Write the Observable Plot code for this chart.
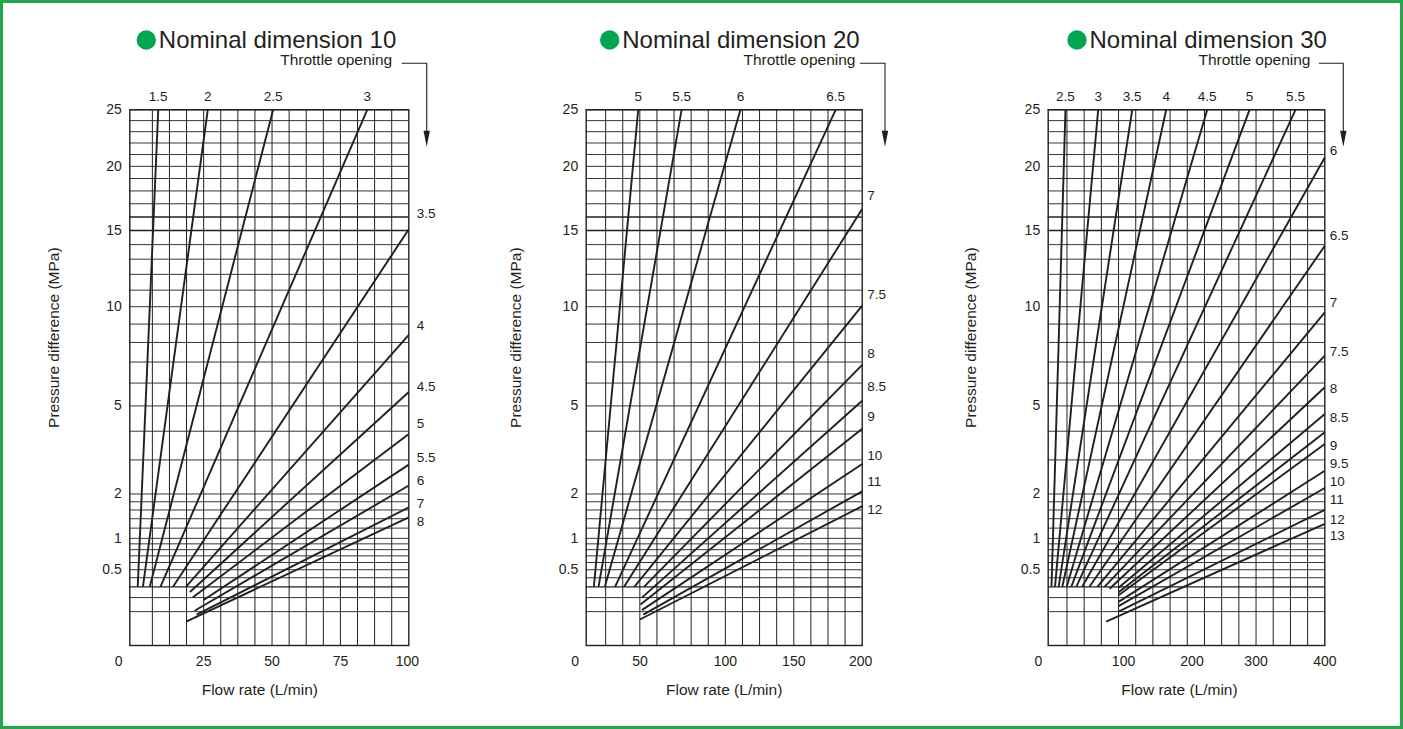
<!DOCTYPE html>
<html>
<head>
<meta charset="utf-8">
<script src="https://cdn.jsdelivr.net/npm/d3@7"></script>
<script src="https://cdn.jsdelivr.net/npm/@observablehq/plot@0.6"></script>
<style>
html,body{margin:0;padding:0;background:#fff;}
#page{position:relative;width:1403px;height:729px;overflow:hidden;background:#fff;}
.panel{position:absolute;top:0;}
#border{position:absolute;left:0;top:0;width:1403px;height:729px;box-sizing:border-box;border:3px solid #22a84a;pointer-events:none;}
</style>
</head>
<body>
<div id="page">
  <div id="p10" class="panel" style="left:0px"></div>
  <div id="p20" class="panel" style="left:470px"></div>
  <div id="p30" class="panel" style="left:930px"></div>
  <div id="border"></div>
</div>
<script>
// ---------- data ----------
const pressureGrid = [0.1, 0.2, 0.3, 0.4, 0.5, 0.6, 0.7, 0.8, 0.9, 1, 1.2, 1.4, 1.6, 1.8, 2, 3, 4, 5, 6, 7, 8, 9, 10,
  11, 12, 13, 14, 15, 16, 17, 18, 19, 20, 21, 22, 23, 24, 25];
const pressureTicks = [0.5, 1, 2, 5, 10, 15, 20, 25];

const flowTicks10 = [0, 25, 50, 75, 100];
const flowTicks20 = [0, 50, 100, 150, 200];
const flowTicks30 = [0, 100, 200, 300, 400];

// throttle opening curves: start (q0 L/min, p0 MPa) -> end (q1, p1)
const lines10 = [
  {o: "1.5", q0: 0.9, p0: 0.3, q1: 8.4, p1: 25},
  {o: "2", q0: 2.8, p0: 0.3, q1: 26.5, p1: 25},
  {o: "2.5", q0: 5.3, p0: 0.3, q1: 50.4, p1: 25},
  {o: "3", q0: 9.2, p0: 0.3, q1: 84.8, p1: 25},
  {o: "3.5", q0: 13.8, p0: 0.3, q1: 100, p1: 15.1},
  {o: "4", q0: 18.5, p0: 0.3, q1: 100, p1: 8.4},
  {o: "4.5", q0: 20, p0: 0.25, q1: 100, p1: 5.6},
  {o: "5", q0: 21, p0: 0.2, q1: 100, p1: 3.9},
  {o: "5.5", q0: 25, p0: 0.18, q1: 100, p1: 2.85},
  {o: "6", q0: 21.7, p0: 0.105, q1: 100, p1: 2.23},
  {o: "7", q0: 22.4, p0: 0.083, q1: 100, p1: 1.66},
  {o: "8", q0: 18.6, p0: 0.05, q1: 100, p1: 1.43}
];
const lines20 = [
  {o: "5", q0: 3.9, p0: 0.3, q1: 36.3, p1: 25},
  {o: "5.5", q0: 7.3, p0: 0.3, q1: 68, p1: 25},
  {o: "6", q0: 11.9, p0: 0.3, q1: 111, p1: 25},
  {o: "6.5", q0: 19.4, p0: 0.3, q1: 180.6, p1: 25},
  {o: "7", q0: 26, p0: 0.3, q1: 200, p1: 16.6},
  {o: "7.5", q0: 33.5, p0: 0.3, q1: 200, p1: 10.06},
  {o: "8", q0: 40.5, p0: 0.3, q1: 200, p1: 6.86},
  {o: "8.5", q0: 39, p0: 0.2, q1: 200, p1: 5.22},
  {o: "9", q0: 38, p0: 0.147, q1: 200, p1: 4.09},
  {o: "10", q0: 39, p0: 0.109, q1: 200, p1: 2.87},
  {o: "11", q0: 40, p0: 0.083, q1: 200, p1: 2.07},
  {o: "12", q0: 37.5, p0: 0.059, q1: 200, p1: 1.69}
];
const lines30 = [
  {o: "2.5", q0: 2.5, p0: 0.3, q1: 22.8, p1: 25},
  {o: "3", q0: 7.6, p0: 0.3, q1: 70.4, p1: 25},
  {o: "3.5", q0: 12.9, p0: 0.3, q1: 119.9, p1: 25},
  {o: "4", q0: 18.2, p0: 0.3, q1: 169.3, p1: 25},
  {o: "4.5", q0: 24.6, p0: 0.3, q1: 229, p1: 25},
  {o: "5", q0: 31.3, p0: 0.3, q1: 290.5, p1: 25},
  {o: "5.5", q0: 38.5, p0: 0.3, q1: 357.4, p1: 25},
  {o: "6", q0: 47.2, p0: 0.3, q1: 400, p1: 20.75},
  {o: "6.5", q0: 57.7, p0: 0.3, q1: 400, p1: 13.92},
  {o: "7", q0: 69.2, p0: 0.3, q1: 400, p1: 9.67},
  {o: "7.5", q0: 79.5, p0: 0.3, q1: 400, p1: 7.32},
  {o: "8", q0: 87, p0: 0.28, q1: 400, p1: 5.81},
  {o: "8.5", q0: 100, p0: 0.29, q1: 400, p1: 4.67},
  {o: "9", q0: 100, p0: 0.247, q1: 400, p1: 3.96},
  {o: "9.5", q0: 100, p0: 0.22, q1: 400, p1: 3.54},
  {o: "10", q0: 100, p0: 0.166, q1: 400, p1: 2.66},
  {o: "11", q0: 100, p0: 0.135, q1: 400, p1: 2.16},
  {o: "12", q0: 100, p0: 0.1, q1: 400, p1: 1.6},
  {o: "13", q0: 82, p0: 0.05, q1: 400, p1: 1.29}
];
// right-hand opening labels (pressure where the label sits)
const rightLabels10 = [
  {o: "3.5", p: 16.24}, {o: "4", p: 8.91}, {o: "4.5", p: 5.84}, {o: "5", p: 4.29},
  {o: "5.5", p: 3.08}, {o: "6", p: 2.37}, {o: "7", p: 1.75}, {o: "8", p: 1.34}
];
const rightLabels20 = [
  {o: "7", p: 17.6}, {o: "7.5", p: 10.72}, {o: "8", p: 7.42}, {o: "8.5", p: 5.84},
  {o: "9", p: 4.56}, {o: "10", p: 3.14}, {o: "11", p: 2.34}, {o: "12", p: 1.61}
];
const rightLabels30 = [
  {o: "6", p: 21.3}, {o: "6.5", p: 14.63}, {o: "7", p: 10.24}, {o: "7.5", p: 7.52},
  {o: "8", p: 5.75}, {o: "8.5", p: 4.52}, {o: "9", p: 3.48}, {o: "9.5", p: 2.88},
  {o: "10", p: 2.34}, {o: "11", p: 1.85}, {o: "12", p: 1.38}, {o: "13", p: 1.05}
];
const titles = ["Nominal dimension 10", "Nominal dimension 20", "Nominal dimension 30"];

// ---------- drawing ----------
const INK = "#231f20";
const GREEN = "#00a650";
const FONT = "'Liberation Sans', Arial, Helvetica, sans-serif";
const H = 729, MT = 109.3, MB = 84;

function panel(cfg) {
  const {el, width, ml, mr, xDomain, gridStep, lines, rightLabels, flowTicks, title, tickDx,
         titleDx, throttleEnd, bracket, xLabelDx, yLabelDx} = cfg;
  const xMax = xDomain[1];
  const gridX = d3.range(gridStep, xMax - 1e-9, gridStep);
  const topLines = lines.filter(d => d.p1 >= 25);
  const decor = (index, scales, values, dim) => {
    const g = d3.create("svg:g");
    const fl = dim.marginLeft, fr = dim.width - dim.marginRight, ft = dim.marginTop;
    // title bullet
    g.append("circle").attr("cx", fl + titleDx - 12).attr("cy", ft - 69.3).attr("r", 9.7).attr("fill", GREEN);
    // throttle bracket and arrow
    const bx0 = fr + bracket[0], bx1 = fr + bracket[1], by = ft - 46, tip = ft + 37.4;
    g.append("path").attr("d", `M${bx0},${by}H${bx1}V${tip - 14}`)
      .attr("fill", "none").attr("stroke", INK).attr("stroke-width", 1.1);
    g.append("path").attr("d", `M${bx1 - 3.2},${tip - 16}L${bx1 + 3.2},${tip - 16}L${bx1},${tip}Z`).attr("fill", INK);
    return g.node();
  };
  const node = Plot.plot({
    width, height: H,
    marginLeft: ml, marginRight: mr, marginTop: MT, marginBottom: MB,
    x: {domain: xDomain, axis: null},
    y: {type: "sqrt", domain: [0, 25], axis: null},
    style: {fontFamily: FONT, background: "transparent", overflow: "visible", color: INK},
    marks: [
      Plot.ruleX(gridX, {stroke: INK, strokeWidth: 1}),
      Plot.ruleY(pressureGrid, {stroke: INK, strokeWidth: d => (d === 15 || d === 16) ? 1.4 : (d === 0.3 ? 1.3 : 0.9)}),
      Plot.frame({stroke: INK, strokeWidth: 1.4}),
      Plot.link(lines, {x1: "q0", y1: "p0", x2: "q1", y2: "p1", stroke: INK, strokeWidth: 1.9}),
      // y tick labels
      Plot.text(pressureTicks, {frameAnchor: "left", y: d => d, text: d => String(d), textAnchor: "end",
        lineAnchor: "middle", dx: -8, fontSize: 14, fill: INK}),
      // x tick labels
      ...flowTicks.map(t => Plot.text([t], {x: d => d, frameAnchor: "bottom", text: d => String(d),
        lineAnchor: "middle", dy: 16, dx: (tickDx[t] || 0), fontSize: 14, fill: INK})),
      // opening labels on top
      Plot.text(topLines, {x: "q1", frameAnchor: "top", text: "o", lineAnchor: "middle", dy: -13.5,
        fontSize: 13.5, fill: INK}),
      // opening labels on right
      Plot.text(rightLabels, {frameAnchor: "right", y: "p", text: "o", textAnchor: "start", lineAnchor: "middle",
        dx: cfg.rlDx, fontSize: 13.5, fill: INK}),
      // axis titles
      Plot.text(["Flow rate (L/min)"], {frameAnchor: "bottom", text: d => d, lineAnchor: "middle", dy: 45,
        dx: xLabelDx, fontSize: 15.5, fill: INK}),
      Plot.text(["Pressure difference (MPa)"], {frameAnchor: "left", text: d => d, rotate: -90,
        textAnchor: "middle", lineAnchor: "middle", dx: yLabelDx, dy: -40, fontSize: 15.5, fill: INK}),
      // panel title
      Plot.text([title], {frameAnchor: "top-left", text: d => d, textAnchor: "start", lineAnchor: "bottom",
        dx: titleDx, dy: -61.6, fontSize: 24, fill: INK}),
      Plot.text(["Throttle opening"], {frameAnchor: "top-right", text: d => d, textAnchor: "end", lineAnchor: "bottom",
        dx: throttleEnd, dy: -45.3, fontSize: 15.5, fill: INK}),
      decor
    ]
  });
  document.getElementById(el).appendChild(node);
}

panel({el: "p10", width: 470, ml: 129.3, mr: 61.7, xDomain: [-2, 100], gridStep: 6.25, lines: lines10,
  rightLabels: rightLabels10, flowTicks: flowTicks10, title: titles[0], tickDx: {0: -16.7, 100: -1.5},
  titleDx: 29, throttleEnd: -16.6, bracket: [-6.6, 18.4], xLabelDx: -9.5, yLabelDx: -76, rlDx: 8});
panel({el: "p20", width: 460, ml: 115.7, mr: 68.3, xDomain: [-1.7, 200], gridStep: 12.5, lines: lines20,
  rightLabels: rightLabels20, flowTicks: flowTicks20, title: titles[1], tickDx: {0: -13.5, 50: -17, 200: -1.5},
  titleDx: 36, throttleEnd: -6.7, bracket: [-1.7, 23.3], xLabelDx: 0, yLabelDx: -70, rlDx: 5});
panel({el: "p30", width: 473, ml: 117.7, mr: 78.7, xDomain: [-2.3, 400], gridStep: 25, lines: lines30,
  rightLabels: rightLabels30, flowTicks: flowTicks30, title: titles[2], tickDx: {0: -11.3, 100: 5, 200: 4.7, 400: 0},
  titleDx: 41.3, throttleEnd: -14.3, bracket: [-5.3, 19], xLabelDx: -7, yLabelDx: -77, rlDx: 5});
</script>
</body>
</html>
